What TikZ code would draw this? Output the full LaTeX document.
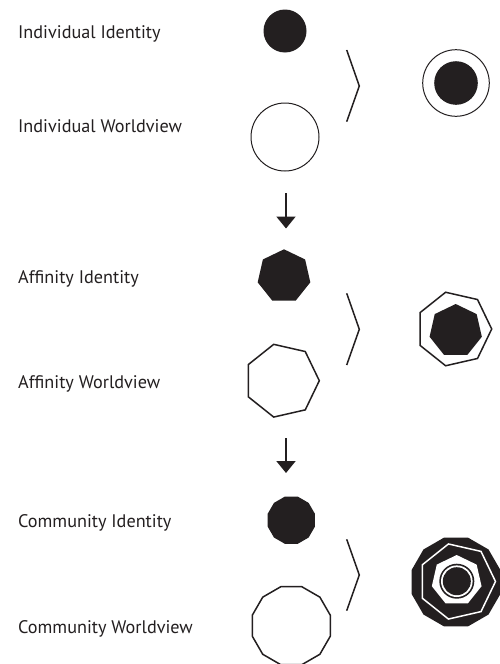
\documentclass[tikz,border=0pt]{standalone}
\usepackage{fontspec}
\setmainfont{PT Sans}
\usetikzlibrary{shapes.geometric,arrows.meta}
\definecolor{ink}{HTML}{231F20}
\begin{document}
\begin{tikzpicture}[x=1pt,y=-1pt,
  lbl/.style={anchor=base west,inner sep=0pt,font=\fontsize{18.2}{21}\selectfont,text=ink},
  dot/.style={circle,fill=ink,inner sep=0pt,outer sep=0pt,minimum size=#1},
  ring/.style={circle,draw=ink,line width=1pt,inner sep=0pt,outer sep=0pt,minimum size=#1},
  poly/.style={regular polygon,regular polygon sides=#1,inner sep=0pt,outer sep=0pt},
  chev/.style={draw=ink,line width=1.5pt},
  flow/.style={draw=ink,line width=2pt,-{Triangle[width=19pt,length=12pt]}}]
\useasboundingbox[fill=white] (0,0) rectangle (500,664);

% labels
\node[lbl] (t1) at (18,38) {Individual Identity};
\node[lbl] (t2) at (18,132.5) {Individual Worldview};
\node[lbl] (t3) at (18,283) {Affinity Identity};
\node[lbl] (t4) at (18,388) {Affinity Worldview};
\node[lbl] (t5) at (18,527) {Community Identity};
\node[lbl] (t6) at (18,633) {Community Worldview};

% row 1: individual
\node[dot=43pt] (i1) at (285,31) {};
\node[ring=68pt] (w1) at (285,137) {};
\draw[chev] (346.7,50) -- (359.3,86) -- (346.7,121.7);
\node[ring=66.6pt] (c1) at (456,83) {};
\node[dot=43.6pt] (c1i) at (456,83) {};

% row 2: affinity
\node[poly=7,fill=ink,minimum size=54pt] (i2) at (284,276.3) {};
\node[poly=7,draw=ink,line width=1.5pt,minimum size=74.6pt,rotate=-90] (w2) at (282,380.7) {};
\draw[chev] (346.7,293.3) -- (359.3,329.3) -- (346.7,365);
\node[poly=7,draw=ink,line width=1.5pt,minimum size=75.4pt,rotate=-90] (c2) at (454,329) {};
\node[poly=7,fill=ink,minimum size=53.6pt] (c2i) at (455.7,330.8) {};

% row 3: community
\node[poly=12,fill=ink,minimum size=49pt] (i3) at (291.3,520.2) {};
\node[poly=12,draw=ink,line width=1.5pt,minimum size=80.8pt] (w3) at (291.3,625.7) {};
\draw[chev] (346.7,539.3) -- (359.3,575) -- (346.7,610.7);
\node[poly=12,fill=ink,minimum size=92pt] (c3) at (456,582) {};
\node[poly=7,draw=white,line width=1.5pt,minimum size=77pt,rotate=-90] (c3w) at (457,581.5) {};
\node[poly=7,fill=white,minimum size=51pt] (c3a) at (456.7,580.5) {};
\node[dot=35pt] (c3b) at (456.8,581.2) {};
\node[circle,fill=white,inner sep=0pt,minimum size=31.6pt] (c3c) at (456.8,581.2) {};
\node[dot=28pt] (c3d) at (456.8,581.2) {};

% arrows between rows
\coordinate (a1s) at (286,193);
\coordinate (a1e) at (286,228.5);
\coordinate (a2s) at (286,438);
\coordinate (a2e) at (286,473);
\draw[flow] (a1s) -- (a1e);
\draw[flow] (a2s) -- (a2e);
\end{tikzpicture}
\end{document}
